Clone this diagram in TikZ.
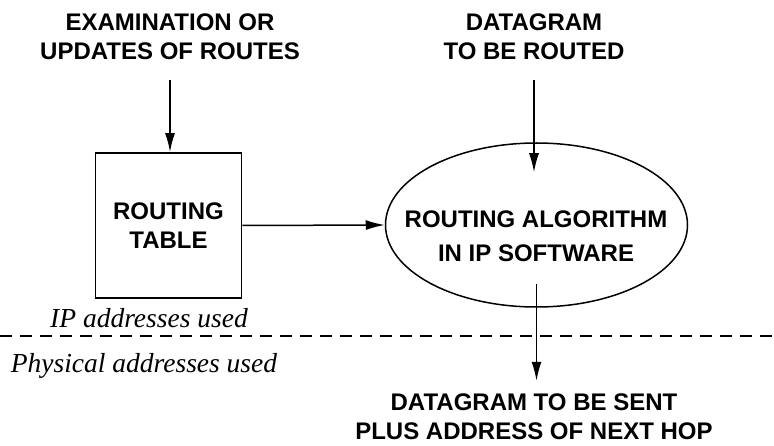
\documentclass[tikz,border=0pt]{standalone}
\usepackage{fontspec}
\setmainfont{Liberation Serif}
\setsansfont{Liberation Sans}
\usepackage{tikz}
\usetikzlibrary{arrows.meta,shapes.geometric}

\begin{document}
\begin{tikzpicture}[x=1pt,y=1pt,>={Latex[length=19pt,width=10pt]},line width=1.5pt,
  caps/.style={font=\sffamily\bfseries\fontsize{24}{29}\selectfont,align=center,inner sep=0pt},
  note/.style={font=\itshape\fontsize{27.5}{33}\selectfont,inner sep=0pt},
  box/.style={caps,draw,line width=1.8pt,minimum width=146pt,minimum height=145pt},
  oval/.style={draw,ellipse,inner sep=0pt,minimum width=302pt,minimum height=164pt}]
\useasboundingbox (0,0) rectangle (774,445);
\node[caps] (exam) at (170,408) {EXAMINATION OR\\UPDATES OF ROUTES};
\node[caps] (dgram) at (534,408) {DATAGRAM\\TO BE ROUTED};
\node[box] (table) at (168.5,219.5) {ROUTING\\TABLE};
\node[oval] (algo) at (536.5,220) {};
\node[caps] (algotext) at (536,209) {ROUTING ALGORITHM\\[5pt]IN IP SOFTWARE};
\node[note] (ipnote) at (149,126.5) {IP addresses used};
\node[note] (physnote) at (144,79) {Physical addresses used};
\node[caps] (sent) at (534,28.5) {DATAGRAM TO BE SENT\\PLUS ADDRESS OF NEXT HOP};
\coordinate (lineleft) at (0,109);
\coordinate (lineright) at (774,109);
\coordinate (algoin) at ([yshift=-30pt]algo.north);
\coordinate (algoout) at ([yshift=24pt]algo.south);
\draw[dash pattern=on 12pt off 8pt] (lineleft)--(lineright);
\draw[->,shorten <=19pt] (exam.south)--(exam.south |- table.north);
\draw[->,shorten <=19pt] (dgram.south)--(dgram.south |- algoin);
\draw[->] (table.east)--(algo.west);
\draw[->,shorten >=12pt] (algoout)--(algoout |- sent.north);
\end{tikzpicture}
\end{document}
